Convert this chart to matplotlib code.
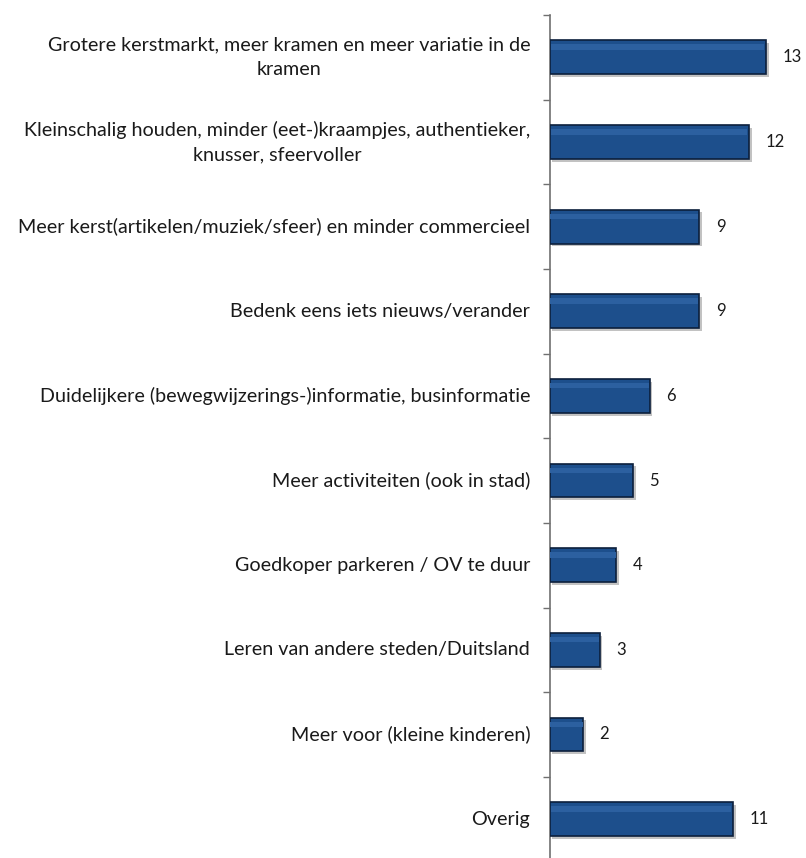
import matplotlib
matplotlib.use("Agg")
import matplotlib.pyplot as plt
import matplotlib.patheffects as pe

plt.rcParams['font.family'] = ['Lato', 'DejaVu Sans']

categories = [
    "Grotere kerstmarkt, meer kramen en meer variatie in de\nkramen",
    "Kleinschalig houden, minder (eet-)kraampjes, authentieker,\nknusser, sfeervoller",
    "Meer kerst(artikelen/muziek/sfeer) en minder commercieel",
    "Bedenk eens iets nieuws/verander",
    "Duidelijkere (bewegwijzerings-)informatie, businformatie",
    "Meer activiteiten (ook in stad)",
    "Goedkoper parkeren / OV te duur",
    "Leren van andere steden/Duitsland",
    "Meer voor (kleine kinderen)",
    "Overig",
]
values = [13, 12, 9, 9, 6, 5, 4, 3, 2, 11]

fig = plt.figure(figsize=(8.06, 8.58), dpi=100)
ax = fig.add_axes([0.682, -0.004, 0.318, 0.9865])

n = len(values)
ypos = list(range(n))
bars = ax.barh(ypos, values, height=0.4, color='#1d4f8c', edgecolor='#0c1f3c',
               linewidth=1.2, zorder=3)
for b in bars:
    b.set_path_effects([pe.SimplePatchShadow(offset=(2, -2), shadow_rgbFace='#9a9a9a', alpha=0.6),
                        pe.Normal()])
    x0, y0 = b.get_x(), b.get_y()
    w, h = b.get_width(), b.get_height()
    ax.barh(y0 + h * 0.2, w * 0.985, height=h * 0.16, left=x0 + w * 0.005, color='#2c60a0',
            edgecolor='none', zorder=4, align='center')

ax.set_ylim(n - 0.5, -0.5)
ax.set_xlim(0, 15.4)

ax.set_yticks([i - 0.5 for i in range(n + 1)])
ax.set_yticklabels([])
ax.tick_params(axis='y', direction='out', length=5, width=1, color='#707070')
ax.set_xticks([])
for s in ['top', 'right', 'bottom']:
    ax.spines[s].set_visible(False)
ax.spines['left'].set_color('#707070')
ax.spines['left'].set_linewidth(1.2)

for i, (cat, v) in enumerate(zip(categories, values)):
    ax.annotate(cat, xy=(0, i), xycoords='data', xytext=(-14, 0), textcoords='offset points',
                ha='right', va='center', multialignment='center', fontsize=14.2,
                color='#1a1a1a', linespacing=1.55)
    ax.annotate(str(v), xy=(v, i), xycoords='data', xytext=(12, 0), textcoords='offset points',
                ha='left', va='center', fontsize=12, color='#1a1a1a')

fig.savefig('out.png', dpi=100, facecolor='white')
